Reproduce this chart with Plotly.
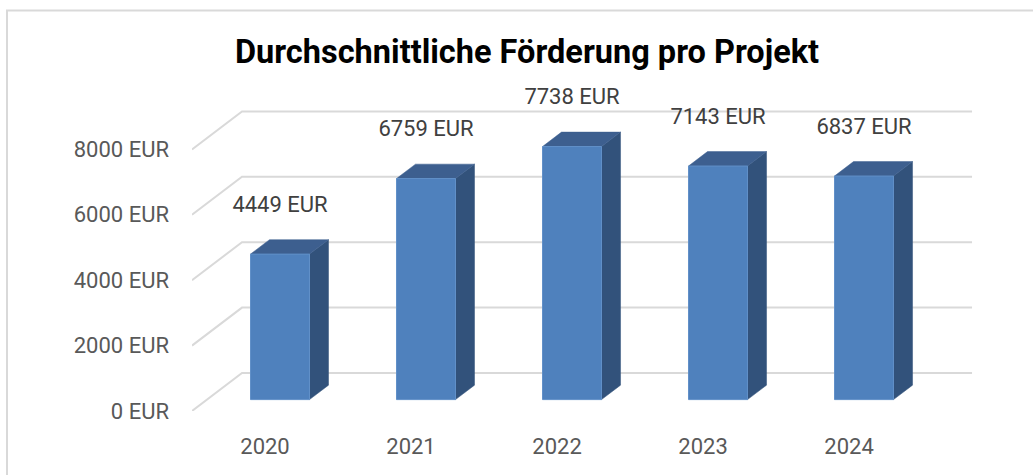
import plotly.graph_objects as go

# ---- data ----
years = ["2020", "2021", "2022", "2023", "2024"]
values = [4449, 6759, 7738, 7143, 6837]
y_ticks = [0, 2000, 4000, 6000, 8000]
title_text = "Durchschnittliche Förderung pro Projekt"

# ---- layout geometry (pixels) ----
W, H = 1033, 475
ml, mr, mt, mb = 192, 33, 80, 64
X_MIN, X_MAX = -0.5, 5.034
Y_MIN, Y_MAX = 0, 10122
px_per_x = (W - ml - mr) / (X_MAX - X_MIN)
px_per_y = (H - mt - mb) / (Y_MAX - Y_MIN)

# 3D depth vector (full depth) in data units
dX = 50 / px_per_x
dY = 38 / px_per_y
d_front = 0.30   # bar front face depth fraction
d_bar = 0.38     # bar depth fraction
bar_w = 59 / px_per_x
label_off = 48 / px_per_y

FRONT = "#4f81bd"
FRONT_EDGE = "#6190c8"
TOP = "#3d5f8f"
SIDE = "#32527b"
GRID = "#d9d9d9"

fig = go.Figure()

# back wall gridlines + diagonal floor/side lines
n = len(years)
for v in y_ticks:
    fig.add_trace(go.Scatter(
        x=[X_MIN, X_MIN + dX, n - 0.5 + dX],
        y=[v, v + dY, v + dY],
        mode="lines", line=dict(color=GRID, width=2),
        hoverinfo="skip", showlegend=False))

bx = [i + d_front * dX for i in range(n)]
base = d_front * dY

# bars: side, top and front faces
for i, v in enumerate(values):
    xl = bx[i] - bar_w / 2
    xr = bx[i] + bar_w / 2
    top = base + v
    ox, oy = d_bar * dX, d_bar * dY
    fig.add_trace(go.Scatter(
        x=[xr, xr, xr + ox, xr + ox, xr],
        y=[base, top, top + oy, base + oy, base],
        fill="toself", fillcolor=SIDE, mode="lines",
        line=dict(color=SIDE, width=0.5),
        hoverinfo="skip", showlegend=False))
    fig.add_trace(go.Scatter(
        x=[xl, xr, xr + ox, xl + ox, xl],
        y=[top, top, top + oy, top + oy, top],
        fill="toself", fillcolor=TOP, mode="lines",
        line=dict(color=TOP, width=0.5),
        hoverinfo="skip", showlegend=False))
    fig.add_trace(go.Scatter(
        x=[xl, xr, xr, xl, xl],
        y=[base, base, top, top, base],
        fill="toself", fillcolor=FRONT, mode="lines",
        line=dict(color=FRONT_EDGE, width=1),
        name=years[i], hoverinfo="skip", showlegend=False))

# data labels
fig.add_trace(go.Scatter(
    x=bx, y=[base + v + label_off for v in values],
    mode="text", text=[f"{v} EUR" for v in values],
    textposition="middle center",
    textfont=dict(family="Roboto", size=22, color="#404040"),
    hoverinfo="skip", showlegend=False, cliponaxis=False))

# chart border (top + left)
pw, ph = W - ml - mr, H - mt - mb
fig.add_shape(type="rect", xref="paper", yref="paper",
              x0=(7 - ml) / pw, x1=(1045 - ml) / pw,
              y0=((H - mb) - 490) / ph, y1=((H - mb) - 10.5) / ph,
              line=dict(color="#d9d9d9", width=2), layer="below")

fig.update_layout(
    width=W, height=H,
    margin=dict(l=ml, r=mr, t=mt, b=mb, pad=0),
    paper_bgcolor="white", plot_bgcolor="white",
    title=dict(text=f"<b>{title_text}</b>", x=527 / W, xanchor="center",
               y=1 - 52 / H, yanchor="middle",
               font=dict(family="Roboto", size=32.5, color="#000000")),
    xaxis=dict(range=[X_MIN, X_MAX], tickmode="array",
               tickvals=list(range(n)), ticktext=years,
               showgrid=False, zeroline=False, showline=False,
               ticks="", ticklabelstandoff=20,
               tickfont=dict(family="Roboto", size=22, color="#595959")),
    yaxis=dict(range=[Y_MIN, Y_MAX], tickmode="array",
               tickvals=y_ticks, ticktext=[f"{t} EUR" for t in y_ticks],
               showgrid=False, zeroline=False, showline=False,
               ticks="", ticklabelstandoff=22,
               tickfont=dict(family="Roboto", size=22, color="#595959")),
)

fig.write_html(
    "out.html",
    config={"displayModeBar": False},
    post_script="document.body.style.margin='0px';"
                "document.body.style.overflow='hidden';")
